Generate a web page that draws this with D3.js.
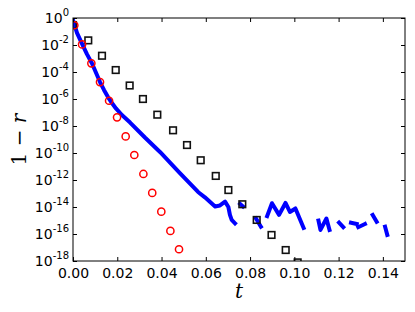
<!DOCTYPE html>
<html>
<head>
<meta charset="utf-8">
<script src="https://cdnjs.cloudflare.com/ajax/libs/d3/7.8.5/d3.min.js"></script>
<style>
 body { margin: 0; background: #fff; }
 svg text { font-family: "DejaVu Sans", sans-serif; }
</style>
</head>
<body>
<svg id="chart" width="415" height="312"></svg>
<script>
// squares (black)
var sqT = [0, 0.0069, 0.0131, 0.0193, 0.0256, 0.0316, 0.0381, 0.0452, 0.0515, 0.0577, 0.0645, 0.0702, 0.0765, 0.0830, 0.0897, 0.0961, 0.1015];
var sqV = [3.0e-1, 2.2e-2, 1.6e-3, 1.4e-4, 1.0e-5, 1.0e-6, 6.9e-8, 4.8e-9, 3.9e-10, 2.9e-11, 2.0e-12, 1.8e-13, 1.6e-14, 1.1e-15, 8.5e-17, 6.5e-18, 7.9e-19];

// circles (red)
var ciT = [0.0006, 0.0041, 0.0083, 0.0122, 0.0163, 0.0199, 0.0238, 0.0277, 0.0318, 0.0358, 0.0399, 0.0440, 0.0479];
var ciV = [2.9e-1, 1.1e-2, 4.4e-4, 1.8e-5, 7.4e-7, 4.4e-8, 1.7e-9, 7.1e-11, 2.8e-12, 1.1e-13, 4.5e-15, 1.7e-16, 7.4e-18];

// blue curve, null = gap (no value on log axis)
var blT = [0, 0.0018, 0.0041, 0.0063, 0.0086, 0.0122, 0.0140, 0.0158, 0.0176, 0.0194, 0.0221, 0.0258, 0.0325, 0.0393, 0.0483, 0.0565, 0.0596, 0.0642, 0.0664, 0.0687, 0.0702, 0.0709, 0.0717, 0.0732,
  0.0740, 0.0755, 0.0768,
  0.0800, 0.0827, 0.0849,
  0.0863, 0.0877, 0.0899, 0.0931, 0.0960, 0.0980, 0.1005, 0.1042,
  0.1080, 0.1109, 0.1118, 0.1145, 0.1159,
  0.1180, 0.1202, 0.1221,
  0.1240, 0.1256, 0.1282,
  0.1285, 0.1289, 0.1319,
  0.1340, 0.1354, 0.1372,
  0.1390, 0.1410, 0.1420];
var blV = [7.1e-1, 7.8e-2, 1.2e-2, 2.1e-3, 4.3e-4, 1.8e-5, 4.7e-6, 1.4e-6, 5.0e-7, 2.0e-7, 6.5e-8, 1.8e-8, 1.4e-9, 1.2e-10, 3.2e-12, 1.3e-13, 5.2e-14, 1.1e-14, 1.3e-14, 2.5e-14, 1.0e-14, 2.6e-15, 1.1e-15, 6.2e-16,
  null, 1.7e-14, 1.1e-14,
  null, 1.4e-15, 3.5e-16,
  null, 2.1e-15, 1.9e-14, 2.6e-15, 2.0e-14, 4.3e-15, 7.8e-15, 2.8e-16,
  null, 1.0e-15, 2.0e-16, 1.4e-15, 2.0e-16,
  null, 6.9e-16, 3.2e-16,
  null, 6.9e-16, 5.5e-16,
  null, 3.2e-16, 5.5e-16,
  null, 2.6e-15, 8.1e-16,
  null, 3.5e-16, 8.5e-17];

var xTicks = [0, 0.02, 0.04, 0.06, 0.08, 0.10, 0.12, 0.14];
var yExps = [0, -2, -4, -6, -8, -10, -12, -14, -16, -18];

var L = 73, R = 405, T = 18, B = 261;
var svg = d3.select("#chart");

var x = d3.scaleLinear().domain([0, 0.15]).range([L, R]);
var y = d3.scaleLog().domain([1e-18, 1]).range([B, T]);
var yTicks = yExps.map(function(e) { return Math.pow(10, e); });

svg.append("clipPath").attr("id", "clip")
  .append("rect").attr("x", L).attr("y", T).attr("width", R - L).attr("height", B - T);

var plot = svg.append("g").attr("clip-path", "url(#clip)");

// blue line
var blue = blT.map(function(t, i) { return [t, blV[i]]; });
plot.append("path")
  .datum(blue)
  .attr("fill", "none")
  .attr("stroke", "#0000ff")
  .attr("stroke-width", 4)
  .attr("stroke-linecap", "square")
  .attr("stroke-linejoin", "round")
  .attr("d", d3.line()
    .defined(function(d) { return d[1] != null; })
    .x(function(d) { return x(d[0]); })
    .y(function(d) { return y(d[1]); }));

// squares
plot.selectAll("rect.sq")
  .data(sqT.map(function(t, i) { return [t, sqV[i]]; }))
  .enter().append("rect")
  .attr("class", "sq")
  .attr("x", function(d) { return x(d[0]) - 3.3; })
  .attr("y", function(d) { return y(d[1]) - 3.3; })
  .attr("width", 6.6).attr("height", 6.6)
  .attr("fill", "none")
  .attr("stroke", "#111")
  .attr("stroke-width", 1.6);

// circles
plot.selectAll("circle")
  .data(ciT.map(function(t, i) { return [t, ciV[i]]; }))
  .enter().append("circle")
  .attr("cx", function(d) { return x(d[0]); })
  .attr("cy", function(d) { return y(d[1]); })
  .attr("r", 3.6)
  .attr("fill", "none")
  .attr("stroke", "#ff0000")
  .attr("stroke-width", 1.5);

// axes, ticks inside
var gb = svg.append("g").attr("transform", "translate(0," + B + ")")
  .call(d3.axisBottom(x).tickValues(xTicks).tickSize(-4).tickPadding(7).tickFormat(d3.format(".2f")));
var gt = svg.append("g").attr("transform", "translate(0," + T + ")")
  .call(d3.axisTop(x).tickValues(xTicks).tickSize(-4).tickFormat(""));
var gl = svg.append("g").attr("transform", "translate(" + L + ",0)")
  .call(d3.axisLeft(y).tickValues(yTicks).tickSize(-4).tickFormat(""));
var gr = svg.append("g").attr("transform", "translate(" + R + ",0)")
  .call(d3.axisRight(y).tickValues(yTicks).tickSize(-4).tickFormat(""));

[gb, gt, gl, gr].forEach(function(g) {
  g.select(".domain").remove();
  g.selectAll("line").attr("stroke", "#000").attr("stroke-width", 1);
});
gb.selectAll("text")
  .attr("font-size", 14)
  .attr("font-family", "DejaVu Sans")
  .attr("fill", "#000");

// y labels 10^e
var yl = svg.append("g");
yExps.forEach(function(e) {
  var t = yl.append("text")
    .attr("x", L - 4)
    .attr("y", y(Math.pow(10, e)) + 5)
    .attr("text-anchor", "end")
    .attr("font-size", 14)
    .attr("fill", "#000");
  t.append("tspan").text("10");
  t.append("tspan").attr("dy", -7).attr("font-size", 10).text(e === 0 ? "0" : "-" + (-e));
});

// frame
svg.append("rect")
  .attr("x", L).attr("y", T).attr("width", R - L).attr("height", B - T)
  .attr("fill", "none").attr("stroke", "#000").attr("stroke-width", 1);

// axis titles
svg.append("text")
  .attr("x", (L + R) / 2).attr("y", 298)
  .attr("text-anchor", "middle")
  .style("font-family", "'DejaVu Serif', serif")
  .style("font-style", "italic")
  .attr("font-size", 20)
  .text("t");

var ylab = svg.append("text")
  .attr("transform", "translate(26," + ((T + B) / 2) + ") rotate(-90)")
  .attr("text-anchor", "middle")
  .style("font-family", "'DejaVu Serif', serif")
  .attr("font-size", 20);
ylab.append("tspan").text("1 \u2212 ");
ylab.append("tspan").style("font-style", "italic").text("r");
</script>
</body>
</html>
